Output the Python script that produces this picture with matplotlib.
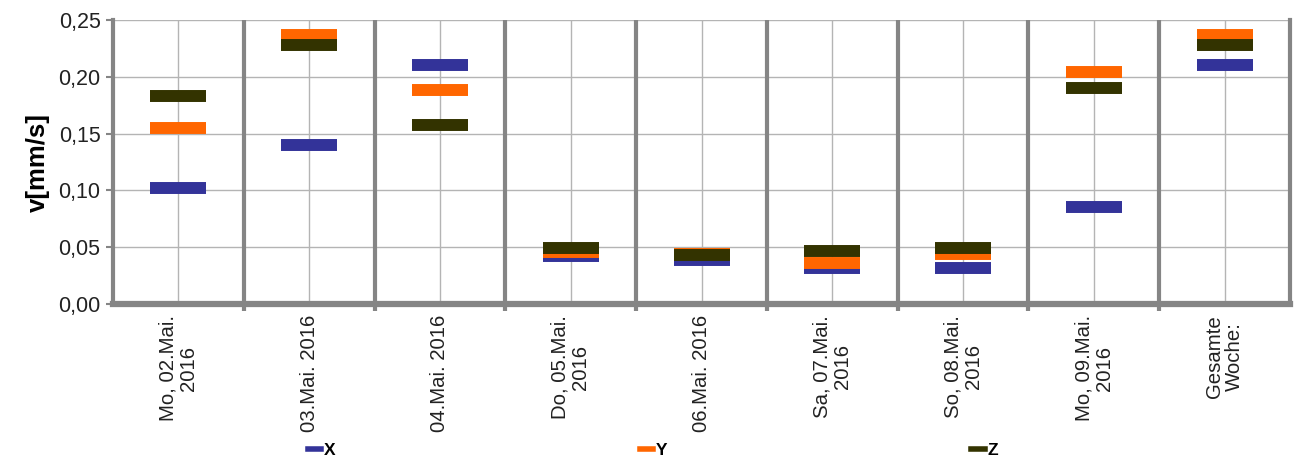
import matplotlib.pyplot as plt
from matplotlib.lines import Line2D
from matplotlib.ticker import FuncFormatter
import numpy as np

plt.rcParams['font.family'] = ['Liberation Sans', 'DejaVu Sans']

days = ['Mo, 02.Mai.\n2016', '03.Mai. 2016', '04.Mai. 2016', 'Do, 05.Mai.\n2016',
        '06.Mai. 2016', 'Sa, 07.Mai.\n2016', 'So, 08.Mai.\n2016', 'Mo, 09.Mai.\n2016',
        'Gesamte\nWoche:']
vx = [0.102, 0.140, 0.210, 0.042, 0.039, 0.032, 0.032, 0.085, 0.210]
vy = [0.155, 0.237, 0.188, 0.046, 0.044, 0.036, 0.044, 0.204, 0.237]
vz = [0.183, 0.228, 0.158, 0.049, 0.043, 0.047, 0.049, 0.190, 0.228]
yticks = [0.0, 0.05, 0.10, 0.15, 0.20, 0.25]

cx = '#333399'
cy = '#ff6600'
cz = '#333300'
grey = '#858585'

fig = plt.figure(figsize=(12.96, 4.57), dpi=100)
ax = fig.add_axes([0.0872, 0.3348, 0.9082, 0.6214])

pos = np.arange(len(days))
mk = dict(marker='_', linestyle='none', markersize=40.5, markeredgewidth=8.6)
ax.plot(pos, vx, color=cx, **mk)
ax.plot(pos, vy, color=cy, **mk)
ax.plot(pos, vz, color=cz, **mk)

ax.set_xlim(-0.5, len(days) - 0.5)
ax.set_ylim(0, 0.25)
ax.set_yticks(yticks)
ax.yaxis.set_major_formatter(FuncFormatter(lambda v, p: ('%.2f' % v).replace('.', ',')))

# thin grid at category centres and y ticks
ax.set_xticks(pos)
ax.set_xticklabels(days, rotation=90, ha='center', va='top', multialignment='center', fontsize=14.7,
                   color='#222222', linespacing=1.1)
ax.tick_params(axis='x', length=0, pad=8)
ax.set_xticks(pos[:-1] + 0.5, minor=True)
ax.tick_params(axis='x', which='minor', length=5, width=3, color=grey, direction='out')
ax.grid(True, color='#b4b4b4', linewidth=1)
ax.set_axisbelow(True)

for b in pos[:-1] + 0.5:
    ax.axvline(b, color=grey, linewidth=3, zorder=1)

ax.tick_params(axis='y', labelsize=15.5, labelcolor='#222222', length=5, width=1.5, color=grey, pad=4)
ax.set_ylabel('v[mm/s]', fontsize=18.5, fontweight='bold', labelpad=6)

ax.spines['top'].set_visible(False)
ax.spines['left'].set_color(grey)
ax.spines['left'].set_linewidth(3)
ax.spines['right'].set_color(grey)
ax.spines['right'].set_linewidth(3)
ax.spines['bottom'].set_color(grey)
ax.spines['bottom'].set_linewidth(4.5)

handles = [Line2D([], [], color=c, linewidth=4) for c in (cx, cy, cz)]
fig.legend(handles, ['X', 'Y', 'Z'], loc='center', bbox_to_anchor=(0.504, 0.015), ncol=3,
           frameon=False, handlelength=0.75, handletextpad=0.2, columnspacing=17.5,
           prop={'weight': 'bold', 'size': 12.5})

fig.savefig('out.png', dpi=100)
